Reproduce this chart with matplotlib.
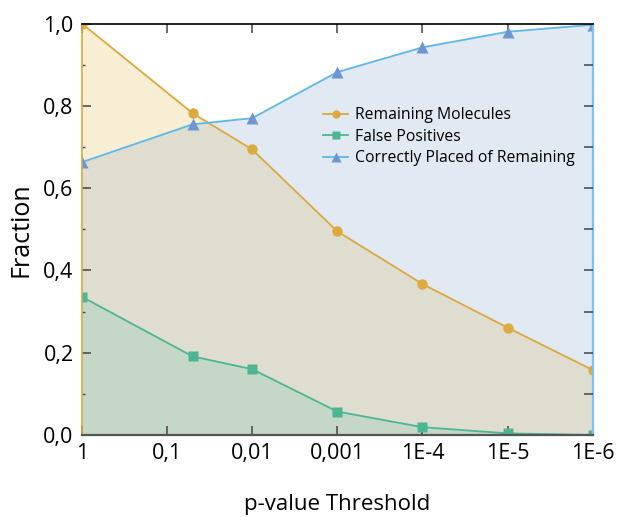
#fraction of molecules vs p-value threshold

import numpy as np
import matplotlib.pyplot as plt

plt.rcParams['font.family'] = ['Open Sans', 'DejaVu Sans']

#data
p_values = [1, 0.05, 0.01, 1e-3, 1e-4, 1e-5, 1e-6]
tick_labels = ['1', '0,1', '0,01', '0,001', '1E-4', '1E-5', '1E-6']
remaining = np.array([1.0, 0.782, 0.694, 0.495, 0.367, 0.261, 0.158])
false_pos = np.array([0.336, 0.191, 0.160, 0.057, 0.019, 0.004, 0.0])
correct = np.array([0.663, 0.755, 0.770, 0.882, 0.942, 0.980, 0.997])

x = -np.log10(p_values)

yellow_line = '#DBA93E'
green_line = '#4DB693'
blue_line = '#5DB7E8'
blue_marker = '#6F95D3'

fig = plt.figure(figsize=(6.2, 5.17), dpi=100)
ax = fig.add_axes([0.132, 0.1586, 0.824, 0.7959])

#overlap colour under both curves, then the parts where only one curve is above
ax.fill_between(x, 0, remaining, color='#DEDDD0', lw=0)
ax.fill_between(x, 0, correct, color='#DEDDD0', lw=0)
ax.fill_between(x, remaining, correct, where=correct >= remaining, interpolate=True,
                color='#E1E9F3', lw=0)
ax.fill_between(x, correct, remaining, where=remaining >= correct, interpolate=True,
                color='#F8EED4', lw=0)
ax.fill_between(x, 0, false_pos, color='#C5D8C7', lw=0)

ax.plot(x, remaining, color=yellow_line, lw=1.3, marker='o', ms=7.5,
        mfc='#DDAA3F', mec='none', label='Remaining Molecules')
ax.plot(x, false_pos, color=green_line, lw=1.3, marker='s', ms=6.5,
        mfc='#4DB592', mec='none', label='False Positives')
ax.plot(x, correct, color=blue_line, lw=1.3, marker='^', ms=8.5,
        mfc=blue_marker, mec='none', label='Correctly Placed of Remaining')

ax.set_xlim(0, 6)
ax.set_ylim(0, 1)

ax.set_xticks(range(7))
ax.set_xticklabels(tick_labels, fontsize=15.5)
ax.set_yticks(np.arange(0, 1.01, 0.2))
ax.set_yticklabels(['0,0', '0,2', '0,4', '0,6', '0,8', '1,0'], fontsize=15.5)
ax.set_yticks(np.arange(0.1, 1.0, 0.2), minor=True)

ax.tick_params(which='major', direction='in', length=6.5, width=1.1, color='#444444',
               top=True, bottom=True, left=True, right=False, pad=6)
ax.tick_params(which='minor', direction='in', length=2.5, width=1.0, color='#444444',
               left=True, right=False)

#right side ticks every 0.1
ax2 = ax.twinx()
ax2.set_ylim(0, 1)
ax2.set_yticks(np.arange(0.1, 1.0, 0.1))
ax2.tick_params(direction='in', length=6.5, width=1.1, color='#444444', labelright=False)
for s in ax2.spines.values():
    s.set_visible(False)

ax.spines['top'].set_color('black')
ax.spines['top'].set_linewidth(1.2)
ax.spines['bottom'].set_color('#555555')
ax.spines['bottom'].set_linewidth(1.6)
ax.spines['left'].set_color(yellow_line)
ax.spines['left'].set_linewidth(1.2)
ax.spines['right'].set_color('#7EC3EE')
ax.spines['right'].set_linewidth(1.6)

ax.set_xlabel('p-value Threshold', fontsize=16, labelpad=21)
ax.set_ylabel('Fraction', fontsize=18, labelpad=7)

ax.legend(loc='upper left', bbox_to_anchor=(0.472, 0.797), frameon=False,
          fontsize=11.3, handlelength=1.6, handletextpad=0.45, labelspacing=0.35,
          borderpad=0, borderaxespad=0, markerscale=0.8)

fig.savefig('out.png', dpi=100)
